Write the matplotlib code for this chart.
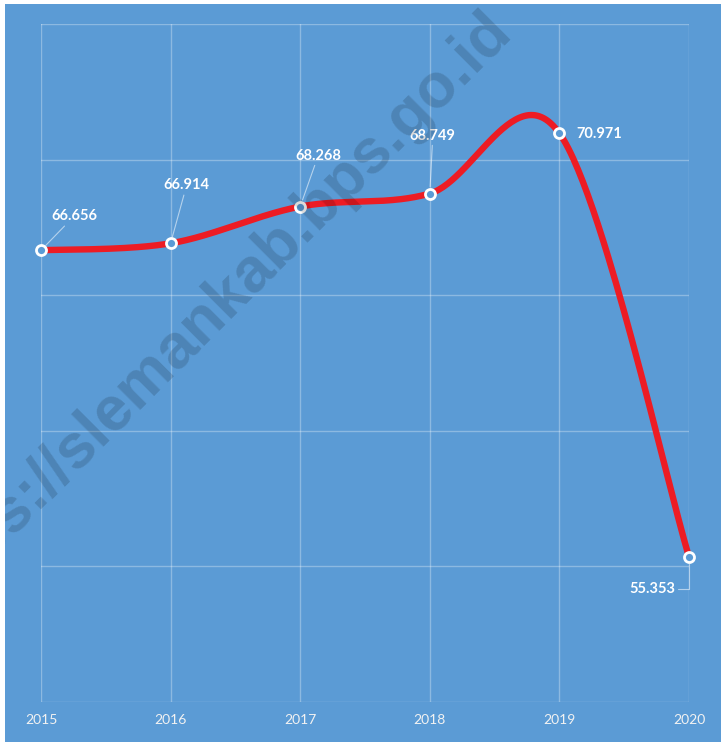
import numpy as np
import matplotlib
matplotlib.use("Agg")
import matplotlib.pyplot as plt
from matplotlib.patches import Rectangle

years = [2015, 2016, 2017, 2018, 2019, 2020]
values = [66.656, 66.914, 68.268, 68.749, 70.971, 55.353]
labels = ["66.656", "66.914", "68.268", "68.749", "70.971", "55.353"]

BG = "#5B9BD5"
RED = "#ED1C24"


def smooth_curve(x, y, n=60):
    # Excel-like smoothed line: Catmull-Rom segments as cubic Bezier
    x = np.asarray(x, float)
    y = np.asarray(y, float)
    px = np.concatenate([[x[0]], x, [x[-1]]])
    py = np.concatenate([[y[0]], y, [y[-1]]])
    xs, ys = [], []
    t = np.linspace(0, 1, n)
    for i in range(1, len(px) - 2):
        p0 = np.array([px[i], py[i]])
        p3 = np.array([px[i + 1], py[i + 1]])
        c1 = p0 + (np.array([px[i + 1], py[i + 1]]) - np.array([px[i - 1], py[i - 1]])) / 6
        c2 = p3 - (np.array([px[i + 2], py[i + 2]]) - np.array([px[i], py[i]])) / 6
        b = ((1 - t) ** 3)[:, None] * p0 + (3 * (1 - t) ** 2 * t)[:, None] * c1 \
            + (3 * (1 - t) * t ** 2)[:, None] * c2 + (t ** 3)[:, None] * p3
        xs.append(b[:, 0])
        ys.append(b[:, 1])
    return np.concatenate(xs), np.concatenate(ys)


fig = plt.figure(figsize=(7.21, 7.42), dpi=100)
fig.patch.set_facecolor("white")
bg = Rectangle((5 / 721, 0), 1, 1 - 4 / 742, transform=fig.transFigure,
               facecolor=BG, edgecolor="none", zorder=-10)
fig.patches.append(bg)

ax = fig.add_axes([41 / 721, 40 / 742, 648 / 721, 678 / 742])
ax.set_facecolor("none")
for s in ax.spines.values():
    s.set_visible(False)

ax.set_xlim(2015, 2020)
ax.set_ylim(50, 75)
ax.set_xticks(years)
ax.set_xticklabels([str(y) for y in years], fontsize=10, color="#F2F2F2", family="Lato")
ax.set_yticks(np.arange(50, 76, 5))
ax.tick_params(axis="y", left=False, labelleft=False)
ax.tick_params(axis="x", length=0, pad=9)
ax.grid(True, color="white", alpha=0.3, lw=1)
ax.set_axisbelow(True)

sx, sy = smooth_curve(years, values)
ax.plot(sx, sy, color=RED, lw=4.6, solid_capstyle="round", zorder=3, clip_on=False)
ax.plot(years, values, ls="none", marker="o", ms=7.2, mfc=BG, mec="white", mew=2.0,
        zorder=4, clip_on=False)

offsets = [(33, 34), (16, 58), (18, 51), (3, 58), (17, -1), (-37, -32)]
aligns = ["center", "center", "center", "center", "left", "center"]
for i, (x, v) in enumerate(zip(years, values)):
    arrow = dict(arrowstyle="-", color="white", alpha=0.55, lw=0.8, shrinkA=0, shrinkB=5)
    if i == 4:
        arrow = None
    elif i == 5:
        arrow["connectionstyle"] = "angle,angleA=0,angleB=90,rad=0"
    ax.annotate(labels[i], xy=(x, v), xytext=offsets[i], textcoords="offset pixels",
                ha=aligns[i], va="center", fontsize=10.5, fontweight="bold", color="white",
                family="Lato", arrowprops=arrow, zorder=5, annotation_clip=False)

wm = fig.text(-72 / 721, 1 - 618 / 742, "https://slemankab.bps.go.id", rotation=45,
              rotation_mode="anchor", ha="left", va="baseline", fontsize=45,
              fontweight="bold", family="Liberation Sans", color="black", alpha=0.15,
              zorder=10)
wm.set_clip_path(bg)

fig.savefig("out.png", dpi=100)
